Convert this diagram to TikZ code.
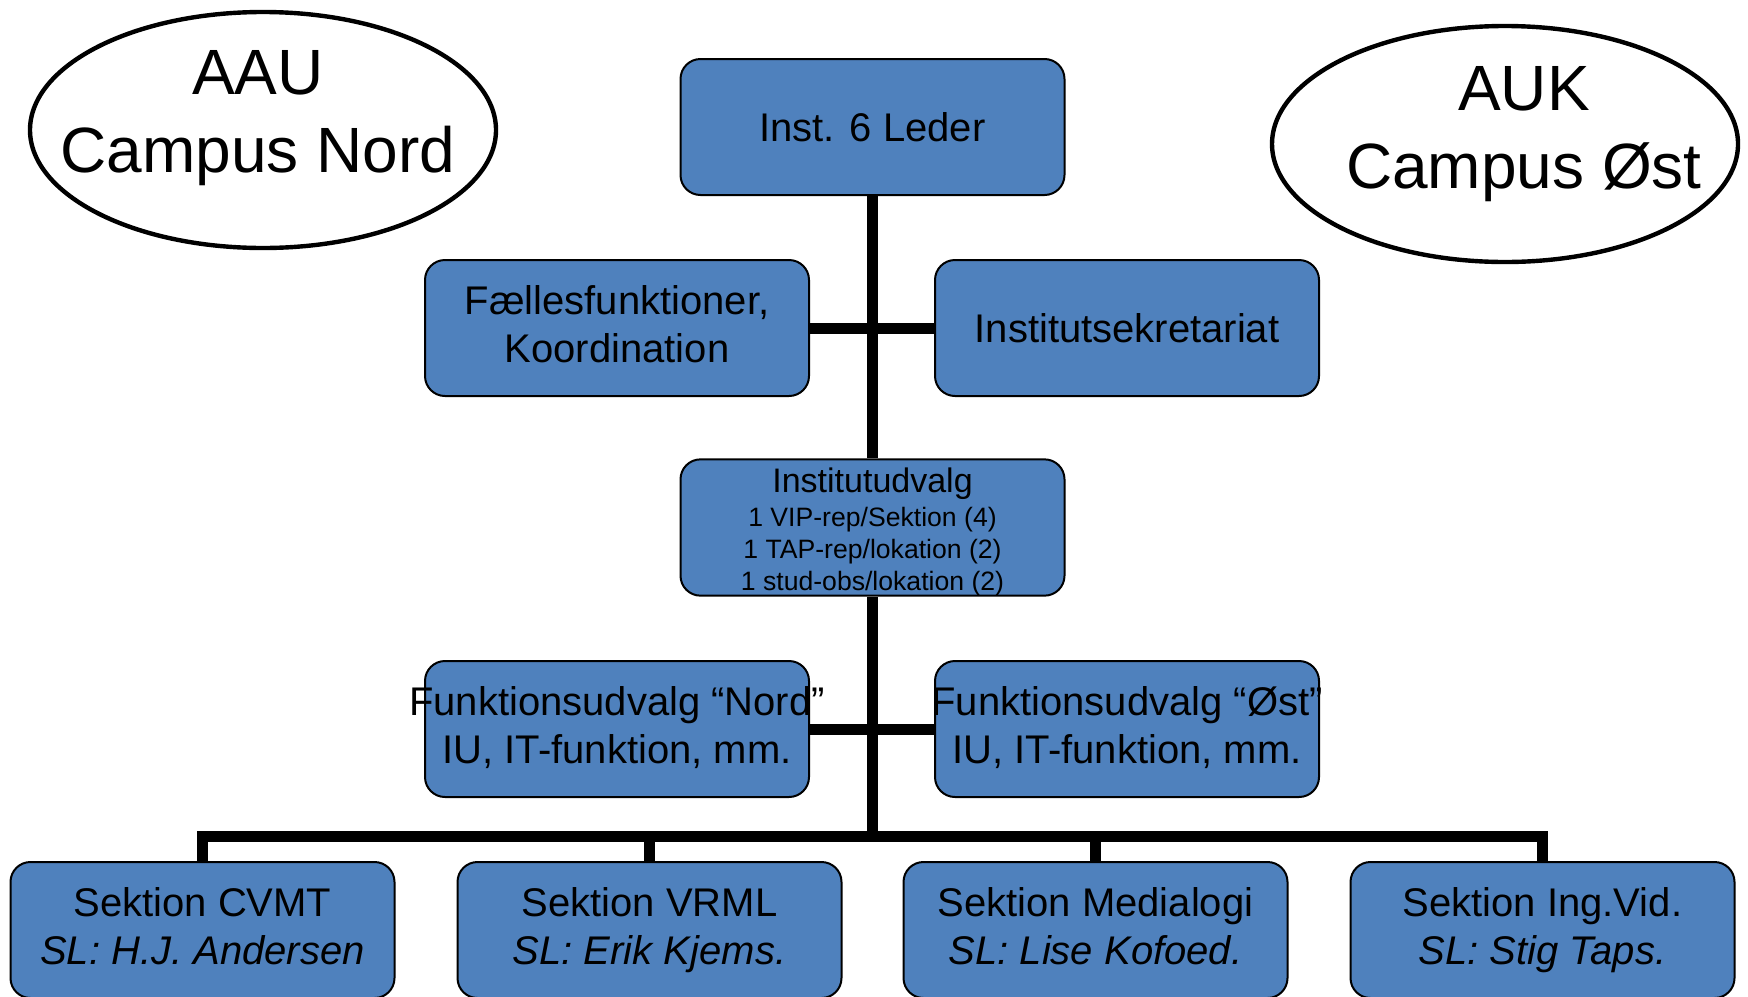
\documentclass[tikz,border=0pt]{standalone}
\usepackage{fontspec}
\setmainfont{Liberation Sans}
\usepackage{xcolor}
\usetikzlibrary{shapes.geometric,backgrounds}
\definecolor{boxblue}{HTML}{4F81BD}

\begin{document}
\begin{tikzpicture}[x=0.5pt,y=-0.5pt,
    basebox/.style={draw=black,line width=1pt,fill=boxblue,rounded corners=10pt,
      minimum width=192pt,minimum height=68pt,inner sep=0pt,align=center},
    box/.style={basebox,font=\fontsize{20}{24}\selectfont,
      execute at begin node={\rule{0pt}{18.7pt}},
      execute at end node={\rule[-4.2pt]{0pt}{4.2pt}}},
    smallbox/.style={basebox,font=\fontsize{13.3}{16}\selectfont},
    campus/.style={draw=black,line width=2.2pt,ellipse,minimum width=233pt,
      minimum height=118pt,inner sep=0pt},
    campustext/.style={align=center,inner sep=0pt,
      font=\fontsize{32}{39}\selectfont},
    conn/.style={line width=5.5pt}]
  \clip (0,0) rectangle (1748,996);
  \node[campus] (nord) at (263,130) {};
  \node[campustext] (nordtext) at (258,118) {AAU\\Campus Nord};
  \node[campus] (oest) at (1505,144) {};
  \node[campustext] (oesttext) at (1524,134) {AUK\\Campus Øst};

  \node[box] (leder) at (872.5,127) {Inst. 6 Leder};
  \node[box] (faelles) at (617,328) {Fællesfunktioner,\\Koordination};
  \node[box] (sekr) at (1127,328) {Institutsekretariat};
  \node[smallbox] (udvalg) at (872.5,527.5)
    {\rule{0pt}{16.4pt}{\fontsize{17}{16}\selectfont Institutudvalg}\\[1pt]1 VIP-rep/Sektion (4)\\
    1 TAP-rep/lokation (2)\\1 stud-obs/lokation (2)};
  \node[box,inner xsep=-9pt] (fnord) at (617,729) {Funktionsudvalg “Nord”\\IU, IT-funktion, mm.};
  \node[box,inner xsep=-9pt] (foest) at (1127,729) {Funktionsudvalg “Øst”\\IU, IT-funktion, mm.};

  \node[box] (cvmt) at (202.5,930) {Sektion CVMT\\\textit{SL: H.J. Andersen}};
  \node[box] (vrml) at (649.5,930) {Sektion VRML\\\textit{SL: Erik Kjems.}};
  \node[box] (medi) at (1095.5,930) {Sektion Medialogi\\\textit{SL: Lise Kofoed.}};
  \node[box] (ingvid) at (1542.5,930) {Sektion Ing.Vid.\\\textit{SL: Stig Taps.}};

  \coordinate (bus) at (872.5,836);

  \begin{pgfonlayer}{background}
    \draw[conn] (leder) -- (udvalg);
    \draw[conn] (udvalg) -- (bus);
    \draw[conn] (faelles) -- (sekr);
    \draw[conn] (fnord) -- (foest);
    \draw[conn] (cvmt) |- (bus) -| (ingvid);
    \draw[conn] (vrml) -- (vrml |- bus);
    \draw[conn] (medi) -- (medi |- bus);
  \end{pgfonlayer}
\end{tikzpicture}
\end{document}
